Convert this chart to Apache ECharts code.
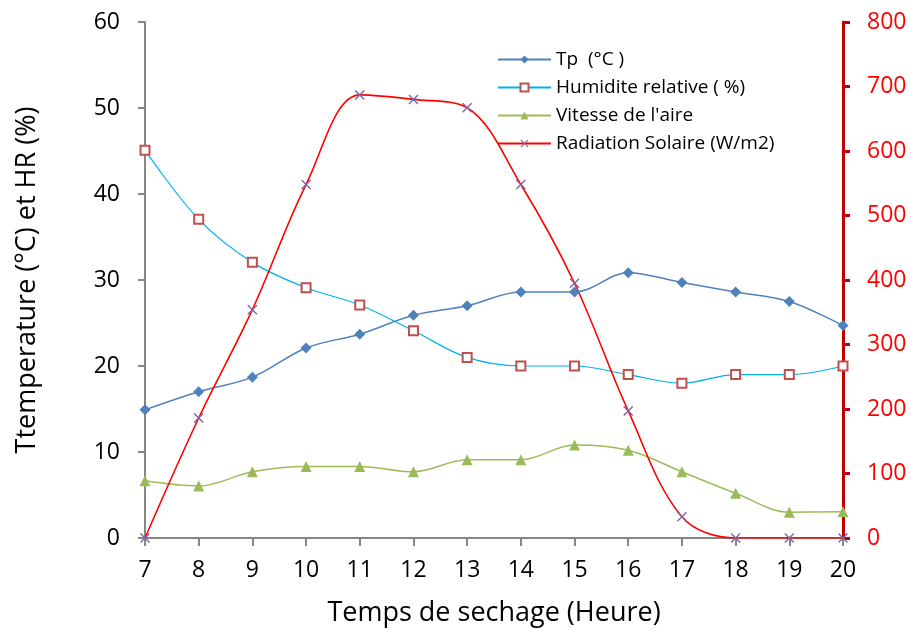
<!DOCTYPE html>
<html><head><meta charset="utf-8">
<script src="https://cdn.jsdelivr.net/npm/echarts@6/dist/echarts.min.js"></script>
<style>html,body{margin:0;padding:0;background:#fff}#c{width:911px;height:632px}</style>
</head><body><div id="c"></div>
<script>
var hours = ['7','8','9','10','11','12','13','14','15','16','17','18','19','20'];
var tp = [14.9,17.0,18.7,22.1,23.7,25.9,27.0,28.6,28.6,30.85,29.7,28.6,27.5,24.7];
var hr = [45.1,37.05,32.05,29.1,27.1,24.1,21.0,20.0,20.0,19.0,18.0,19.0,19.0,20.0];
var vitesse = [6.65,6.05,7.7,8.3,8.3,7.7,9.1,9.1,10.8,10.2,7.7,5.2,3.0,3.05];
var radiation = [0,186,354,548,687,680,667,548,395,197,33,0,0,0];
var leftTicks = [0,10,20,30,40,50,60];
var rightTicks = [0,100,200,300,400,500,600,700,800];
var names = ['Tp  (°C )','Humidite relative ( %)',"Vitesse de l'aire",'Radiation Solaire (W/m2)'];

var FONT = '"Open Sans", "Liberation Sans", sans-serif';
var crossPath = 'path://M0,1L1,0L5,4L9,0L10,1L6,5L10,9L9,10L5,6L1,10L0,9L4,5Z';
var chart = echarts.init(document.getElementById('c'));
chart.setOption({
  animation:false,
  textStyle:{fontFamily:FONT},
  grid:{left:145,right:68,top:22,bottom:94,containLabel:false},
  legend:{
    orient:'vertical',left:492,top:45,itemGap:9,itemWidth:53,itemHeight:10,
    textStyle:{fontSize:19,color:'#000',fontFamily:FONT},
    data:names
  },
  xAxis:{
    type:'category',data:hours,boundaryGap:false,
    name:'Temps de sechage (Heure)',nameLocation:'middle',nameGap:62,
    nameTextStyle:{fontSize:27,color:'#000'},
    axisLine:{lineStyle:{color:'#868686',width:2}},
    axisTick:{show:true,inside:false,length:8,lineStyle:{color:'#868686',width:2},alignWithLabel:true},
    axisLabel:{fontSize:23,color:'#000',margin:21},
    splitLine:{show:false}
  },
  yAxis:[{
    type:'value',min:leftTicks[0],max:leftTicks[leftTicks.length-1],interval:10,position:'left',
    name:'Ttemperature (°C) et HR (%)',nameLocation:'middle',nameGap:104,
    nameTextStyle:{fontSize:27,color:'#000'},
    axisLine:{show:true,lineStyle:{color:'#868686',width:2}},
    axisTick:{show:true,length:7,lineStyle:{color:'#868686',width:2}},
    axisLabel:{fontSize:23,color:'#000',margin:25},
    splitLine:{show:false}
  },{
    type:'value',min:rightTicks[0],max:rightTicks[rightTicks.length-1],interval:100,position:'right',
    axisLine:{show:true,lineStyle:{color:'#C00000',width:3}},
    axisTick:{show:true,length:7,lineStyle:{color:'#C00000',width:3}},
    axisLabel:{fontSize:23,color:'#FF0000',margin:24},
    splitLine:{show:false}
  }],
  series:[{
    name:names[0],type:'line',data:tp,yAxisIndex:0,smooth:0.35,
    symbol:'diamond',symbolSize:11,
    lineStyle:{color:'#4F81BD',width:1.5},itemStyle:{color:'#4F81BD'}
  },{
    name:names[1],type:'line',data:hr,yAxisIndex:0,smooth:0.35,
    symbol:'rect',symbolSize:9,
    lineStyle:{color:'#00B0F0',width:1.2},itemStyle:{color:'#fff',borderColor:'#C0504D',borderWidth:2}
  },{
    name:names[2],type:'line',data:vitesse,yAxisIndex:0,smooth:0.35,
    symbol:'triangle',symbolSize:11,
    lineStyle:{color:'#9BBB59',width:1.5},itemStyle:{color:'#9BBB59'}
  },{
    name:names[3],type:'line',data:radiation,yAxisIndex:1,smooth:0.35,
    symbol:crossPath,symbolSize:10,
    lineStyle:{color:'#FF0000',width:1.6},itemStyle:{color:'#8064A2'}
  }]
});
</script></body></html>
